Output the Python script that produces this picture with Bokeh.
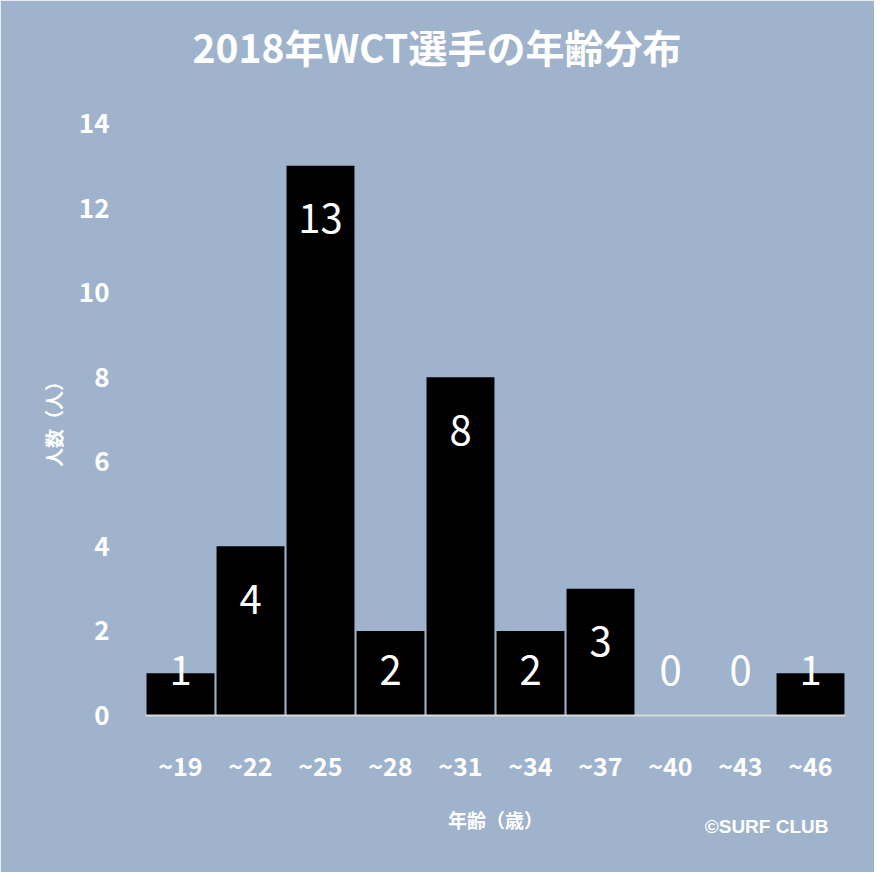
from bokeh.plotting import figure
from bokeh.models import Title, Range1d
from bokeh.core.properties import value
from bokeh.embed import file_html
from bokeh.resources import INLINE

# ---- data ----
categories = ["~19", "~22", "~25", "~28", "~31", "~34", "~37", "~40", "~43", "~46"]
counts = [1, 4, 13, 2, 8, 2, 3, 0, 0, 1]
y_ticks = [0, 2, 4, 6, 8, 10, 12, 14]
title_text = "2018年WCT選手の年齢分布"
x_label = "年齢（歳）"
y_label = "人数（人）"
credit = "©SURF CLUB"

BG = "#9fb3cc"
JP = "Noto Sans CJK JP"

p = figure(x_range=categories, y_range=Range1d(0, 14), width=874, height=872,
           output_backend="svg", toolbar_location=None,
           min_border_left=145, min_border_right=29,
           min_border_top=123, min_border_bottom=157)
p.background_fill_color = BG
p.border_fill_color = BG
p.outline_line_color = BG
p.outline_line_width = 2
p.grid.visible = False

p.vbar(x=categories, top=counts, width=0.97, fill_color="black", line_color=None)

# data labels: inside end, clamped near the base for short bars
label_y = [max(v - 1.25, 1.06) for v in counts]
p.text(x=categories, y=label_y, text=[str(v) for v in counts],
       text_color="white", text_font=value(JP), text_font_size="40px",
       text_align="center", text_baseline="middle")

# y axis
ya = p.yaxis[0]
ya.ticker = y_ticks
ya.axis_line_color = None
ya.major_tick_line_color = None
ya.minor_tick_line_color = None
ya.major_label_text_color = "white"
ya.major_label_text_font = JP
ya.major_label_text_font_style = "bold"
ya.major_label_text_font_size = "26px"
ya.major_label_standoff = 30
ya.axis_label = y_label
ya.axis_label_text_color = "white"
ya.axis_label_text_font = JP
ya.axis_label_text_font_style = "bold"
ya.axis_label_text_font_size = "19px"
ya.axis_label_standoff = 9

# x axis
xa = p.xaxis[0]
xa.axis_line_color = "#d9d9d9"
xa.axis_line_width = 2
xa.major_tick_line_color = None
xa.minor_tick_line_color = None
xa.major_label_text_color = "white"
xa.major_label_text_font = JP
xa.major_label_text_font_style = "bold"
xa.major_label_text_font_size = "25px"
xa.major_label_standoff = 25
xa.axis_label = x_label
xa.axis_label_text_color = "white"
xa.axis_label_text_font = JP
xa.axis_label_text_font_style = "bold"
xa.axis_label_text_font_size = "19px"
xa.axis_label_standoff = 20

# title (a blank spacer title sits between it and the frame)
spacer = Title(text=" ", text_font_size="43px", standoff=0)
main_title = Title(text=title_text, text_color="white", text_font=JP,
                   text_font_style="bold", text_font_size="39px",
                   align="left", offset=47, standoff=0)
p.add_layout(spacer, "above")
p.add_layout(main_title, "above")

# credit under the axis
credit_title = Title(text=credit, text_color="white", text_font="Liberation Sans",
                     text_font_style="bold", text_font_size="19px",
                     align="right", offset=17, standoff=-40, vertical_align="top")
p.add_layout(credit_title, "below")

open("out.html", "w").write(file_html(p, INLINE))
